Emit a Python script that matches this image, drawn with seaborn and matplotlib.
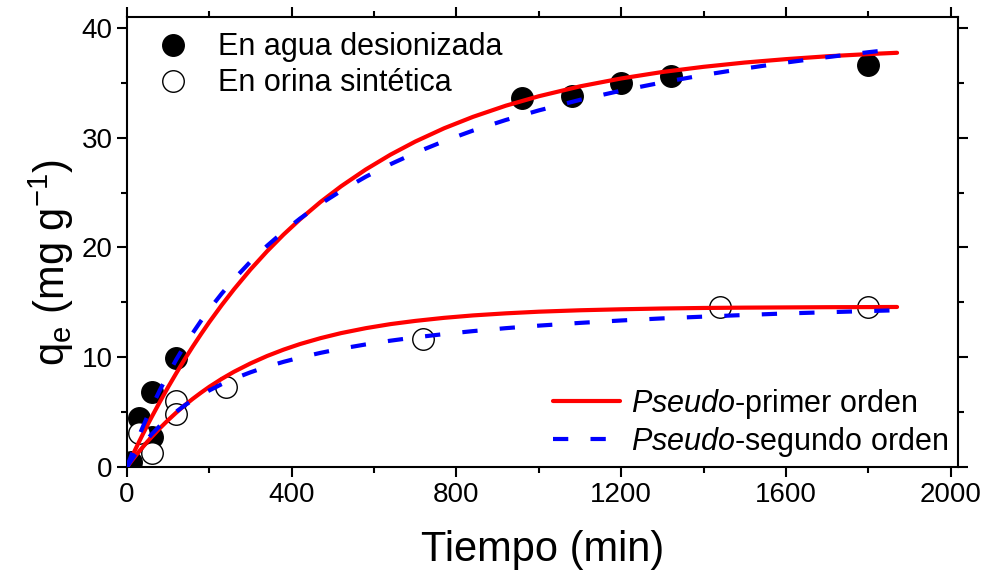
import numpy as np
import pandas as pd
import matplotlib
matplotlib.use("Agg")
import matplotlib.pyplot as plt
import seaborn as sns
from matplotlib.ticker import MultipleLocator
from matplotlib.lines import Line2D

# ---- data ----
t_agua = [10, 30, 60, 60, 120, 960, 1080, 1200, 1320, 1800]
q_agua = [0.5, 4.5, 6.8, 2.7, 9.9, 33.6, 33.8, 35.0, 35.6, 36.6]

t_orina = [30, 60, 120, 120, 240, 720, 1440, 1800]
q_orina = [3.1, 1.3, 6.0, 4.8, 7.3, 11.7, 14.6, 14.6]

t_fit = [0, 10, 20, 30, 40, 50, 60, 80, 100, 120, 140, 160, 180, 200, 230,
         260, 300, 340, 380, 420, 470, 520, 580, 640, 700, 770, 840, 920,
         1000, 1100, 1200, 1300, 1400, 1500, 1600, 1700, 1800, 1870]
pfo_agua = [0, 0.80, 1.58, 2.35, 3.10, 3.84, 4.56, 5.95, 7.29, 8.57, 9.81,
            10.99, 12.12, 13.21, 14.75, 16.20, 18.00, 19.65, 21.17, 22.56,
            24.15, 25.58, 27.11, 28.46, 29.65, 30.86, 31.90, 32.92, 33.78,
            34.68, 35.40, 35.99, 36.46, 36.85, 37.16, 37.42, 37.62, 37.74]
pso_agua = [0, 1.01, 1.97, 2.90, 3.79, 4.65, 5.47, 7.02, 8.46, 9.81, 11.06,
            12.23, 13.33, 14.37, 15.80, 17.12, 18.72, 20.15, 21.45, 22.63,
            23.97, 25.16, 26.45, 27.59, 28.62, 29.69, 30.65, 31.62, 32.49,
            33.45, 34.29, 35.04, 35.71, 36.31, 36.85, 37.34, 37.79, 38.08]
pfo_orina = [0, 0.50, 0.98, 1.44, 1.89, 2.33, 2.74, 3.54, 4.28, 4.97, 5.62,
             6.22, 6.78, 7.31, 8.03, 8.68, 9.44, 10.11, 10.69, 11.20, 11.74,
             12.20, 12.65, 13.02, 13.31, 13.59, 13.81, 14.00, 14.15, 14.28,
             14.37, 14.44, 14.49, 14.52, 14.54, 14.56, 14.57, 14.58]
pso_orina = [0, 0.59, 1.14, 1.65, 2.12, 2.57, 2.99, 3.76, 4.44, 5.05, 5.61,
             6.11, 6.57, 6.98, 7.55, 8.05, 8.63, 9.14, 9.58, 9.97, 10.40,
             10.78, 11.17, 11.51, 11.81, 12.11, 12.38, 12.65, 12.88, 13.13,
             13.35, 13.54, 13.70, 13.85, 13.99, 14.10, 14.21, 14.28]

x_ticks = [0, 400, 800, 1200, 1600, 2000]
y_ticks = [0, 10, 20, 30, 40]

lbl_agua = "En agua desionizada"
lbl_orina = "En orina sintética"
lbl_pfo = r"$\it{Pseudo}$-primer orden"
lbl_pso = r"$\it{Pseudo}$-segundo orden"

# ---- style ----
sns.set_theme(style="ticks")
plt.rcParams["font.family"] = ["Liberation Sans", "DejaVu Sans"]
plt.rcParams["mathtext.fontset"] = "custom"
plt.rcParams["mathtext.rm"] = "Liberation Sans"
plt.rcParams["mathtext.it"] = "Liberation Sans:italic"
plt.rcParams["lines.scale_dashes"] = False
for k in ("text.color", "axes.labelcolor", "xtick.color", "ytick.color",
          "axes.edgecolor"):
    plt.rcParams[k] = "black"

fig = plt.figure(figsize=(9.84, 5.75), dpi=100)
ax = fig.add_axes([127 / 984, 1 - 467 / 575, 831 / 984, 450 / 575])

df_a = pd.DataFrame({"t": t_agua, "q": q_agua})
df_o = pd.DataFrame({"t": t_orina, "q": q_orina})

sns.scatterplot(data=df_a, x="t", y="q", ax=ax, s=240, color="black",
                edgecolor="black", linewidth=1.0, zorder=2, legend=False)
sns.scatterplot(data=df_o, x="t", y="q", ax=ax, s=240, color="white",
                edgecolor="black", linewidth=1.0, zorder=2, legend=False)

dash = (11, 16)
for yv in (pfo_agua, pfo_orina):
    sns.lineplot(x=t_fit, y=yv, ax=ax, color="#ff0000", linewidth=3.0,
                 estimator=None, sort=False, zorder=3)
for yv in (pso_agua, pso_orina):
    sns.lineplot(x=t_fit, y=yv, ax=ax, color="#0000ff", linewidth=3.0,
                 estimator=None, sort=False, zorder=4)
    ax.lines[-1].set_dashes(dash)

ax.set_xlim(0, 2018)
ax.set_ylim(0, 41)
ax.set_xticks(x_ticks)
ax.set_yticks(y_ticks)
ax.xaxis.set_minor_locator(MultipleLocator(200))
ax.yaxis.set_minor_locator(MultipleLocator(5))
ax.tick_params(which="both", direction="out", width=1.5, top=True, right=True,
               labelsize=20, colors="black")
ax.tick_params(which="major", length=7)
ax.tick_params(which="minor", length=4)
for sp in ax.spines.values():
    sp.set_linewidth(1.5)
    sp.set_color("black")
    sp.set_visible(True)

ax.set_xlabel("Tiempo (min)", fontsize=30, labelpad=16)
ax.set_ylabel(r"q$_\mathrm{e}$ (mg g$^{-1}$)", fontsize=30, labelpad=4)
ax.yaxis.label.set_y(0.455)

h1 = [Line2D([], [], marker="o", linestyle="none", markersize=15.5,
             markerfacecolor="black", markeredgecolor="black"),
      Line2D([], [], marker="o", linestyle="none", markersize=15.5,
             markerfacecolor="white", markeredgecolor="black", markeredgewidth=1.0)]
leg1 = ax.legend(h1, [lbl_agua, lbl_orina], loc="upper left",
                 bbox_to_anchor=(0.018, 1.0), frameon=False, fontsize=22,
                 handlelength=1.0, handletextpad=1.0, labelspacing=0.2,
                 borderaxespad=0.2, borderpad=0.3)
ax.add_artist(leg1)

l_pso = Line2D([], [], color="#0000ff", linewidth=3.0)
l_pso.set_dashes(dash)
h2 = [Line2D([], [], color="#ff0000", linewidth=3.0), l_pso]
ax.legend(h2, [lbl_pfo, lbl_pso], loc="lower right",
          bbox_to_anchor=(1.01, -0.022), frameon=False, fontsize=22,
          handlelength=2.2, handletextpad=0.35, labelspacing=0.12,
          borderaxespad=0.3, borderpad=0.3)

fig.savefig("out.png", dpi=100)
